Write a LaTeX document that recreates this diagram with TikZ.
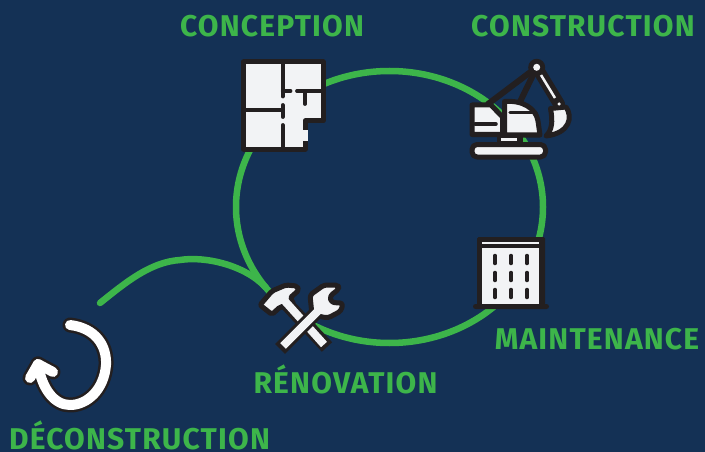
\documentclass[tikz,border=0pt]{standalone}
\usepackage{fontspec}
\setmainfont{Fira Sans}
\usetikzlibrary{positioning,shapes.geometric}
\definecolor{navy}{HTML}{143155}
\definecolor{leaf}{HTML}{3DB54A}
\definecolor{ink}{HTML}{231F20}
\definecolor{paper}{HTML}{F2F3F5}
\tikzset{
  ringline/.style={draw=leaf,line width=6.5pt,line cap=round},
  phase/.style={text=leaf,font=\fontsize{30}{30}\bfseries\addfontfeature{LetterSpace=4}\selectfont,inner sep=0pt,anchor=base},
  outline/.style={draw=ink,fill=paper,line width=5pt,line join=round,line cap=round},
  wall/.style={draw=ink,line width=3.8pt,line cap=round},
  pane/.style={draw=ink,line width=3.5pt,line cap=round}
}
\begin{document}
\begin{tikzpicture}[x=1pt,y=-1pt]
\useasboundingbox[fill=navy] (0,0) rectangle (705,452);

% cycle
\node[ellipse,ringline,minimum width=307pt,minimum height=272pt,inner sep=0pt,outer sep=0pt] (ring) at (389.5,207) {};
\coordinate (tailtop) at (180,260);
\coordinate (tailend) at (100,303);
\draw[ringline] (ring.213) .. controls (245,265) and (205,256) .. (tailtop)
  .. controls (150,262) and (125,283) .. (tailend);

% conception
\path[outline] (243.5,62) -- (323,62) -- (323,121) -- (305,121) -- (305,149) -- (243.5,149) -- cycle;
\draw[wall] (282.7,62) -- (282.7,96.5);
\draw[wall] (282.7,105) -- (282.7,117);
\draw[wall] (282.7,125) -- (282.7,149);
\draw[wall] (243.5,110) -- (282.7,110);
\draw[wall] (282.7,91) -- (290.5,91);
\draw[wall] (297,91) -- (323,91);
\draw[wall] (305,91) -- (305,104);
\draw[draw=paper,line width=5.5pt] (305,130.5) -- (305,140.5);

% construction
\draw[draw=ink,line width=12pt,line cap=round] (536.7,67.3) -- (559,104);
\draw[draw=paper,line width=2.5pt] (541,75) -- (555,98);
\draw[draw=ink,line width=6pt,line cap=round] (488,104) -- (536.7,67.3);
\draw[draw=ink,line width=6pt,line cap=round] (518,106) -- (536.7,67.3);
\path[draw=ink,fill=ink] (497,135) rectangle (522,147);
\path[fill=paper] (501,138) rectangle (517,141);
\path[outline] (472,105) -- (491,105) -- (502.5,117) -- (502.5,134.5) -- (472,134.5) -- cycle;
\draw[pane] (475,124) -- (496,124);
\path[outline] (504.5,101.5) .. controls (522,100) and (536,108) .. (538,121) -- (540,135) -- (504.5,135) -- cycle;
\draw[pane] (510,112.5) -- (536,112.5);
\path[outline,rounded corners=5pt] (472,144.5) rectangle (545.5,157);
\path[outline] (550.5,108.5) -- (566,107) .. controls (573,117) and (570,133) .. (546,136)
  .. controls (552,130) and (553,122) .. cycle;
\node[circle,fill=ink,minimum size=11pt,inner sep=0pt] (bucketpin) at (559,104) {};
\node[circle,fill=paper,minimum size=3.5pt,inner sep=0pt] (bucketdot) at (559,104) {};
\node[circle,fill=ink,minimum size=17pt,inner sep=0pt] (boompin) at (536.7,67.3) {};
\node[circle,fill=paper,minimum size=7pt,inner sep=0pt] (boomdot) at (536.7,67.3) {};

% maintenance
\path[fill=ink,rounded corners=1.5pt] (477,237) rectangle (545,306);
\path[fill=ink,rounded corners=2.5pt] (473,304) rectangle (549,309);
\path[fill=paper] (482.3,241.7) rectangle (539.3,244.3);
\path[fill=paper] (482.3,248.3) rectangle (539.3,304);
\foreach \wx in {495,511,527}
  \foreach \wy in {255.5,272.5,289.5}
    \draw[pane] (\wx,\wy) -- (\wx,\wy+8);

% renovation
\draw[draw=ink,line width=14pt] (285,302) -- (327,347);
\path[outline,rounded corners=2pt] (260,305) -- (272,291) -- (286,285) -- (297,286) -- (299,290) -- (290,298) -- (294,304) -- (280,307) -- (272,314.5) -- cycle;
\draw[draw=paper,line width=8pt] (283,299) -- (324,344.5);
\draw[draw=ink,line width=14pt] (326,303) -- (280,349);
\path[outline,rounded corners=3pt] (312,315) -- (310,295) -- (324,285) -- (338,285) -- (339,289) -- (330,296) -- (331,302) -- (337,303) -- (343,303) -- (341,311) -- (328,318) -- cycle;
\draw[draw=paper,line width=8pt] (322,307) -- (283,346);

% deconstruction
\coordinate (loopstart) at (70,325);
\coordinate (looptip) at (38,364);
\foreach \shade/\wd in {ink/15pt,white/10pt}{
  \draw[draw=\shade,line width=\wd,line cap=round,line join=round]
    (loopstart) .. controls (95,328) and (107,345) .. (106,365)
    .. controls (104,390) and (87,405) .. (70,405)
    .. controls (55,405) and (42,390) .. (looptip);
  \draw[draw=\shade,line width=\wd,line cap=round,line join=round] (30,378) -- (looptip) -- (53,372);
}

% labels
\node[phase] (conceptlabel) at (272,37) {CONCEPTION};
\node[phase] (buildlabel) at (583,37) {CONSTRUCTION};
\node[phase] (maintlabel) at (597,349) {MAINTENANCE};
\node[phase] (renovlabel) at (345.5,393) {RÉNOVATION};
\node[phase] (deconlabel) at (139.5,449) {DÉCONSTRUCTION};
\end{tikzpicture}
\end{document}
